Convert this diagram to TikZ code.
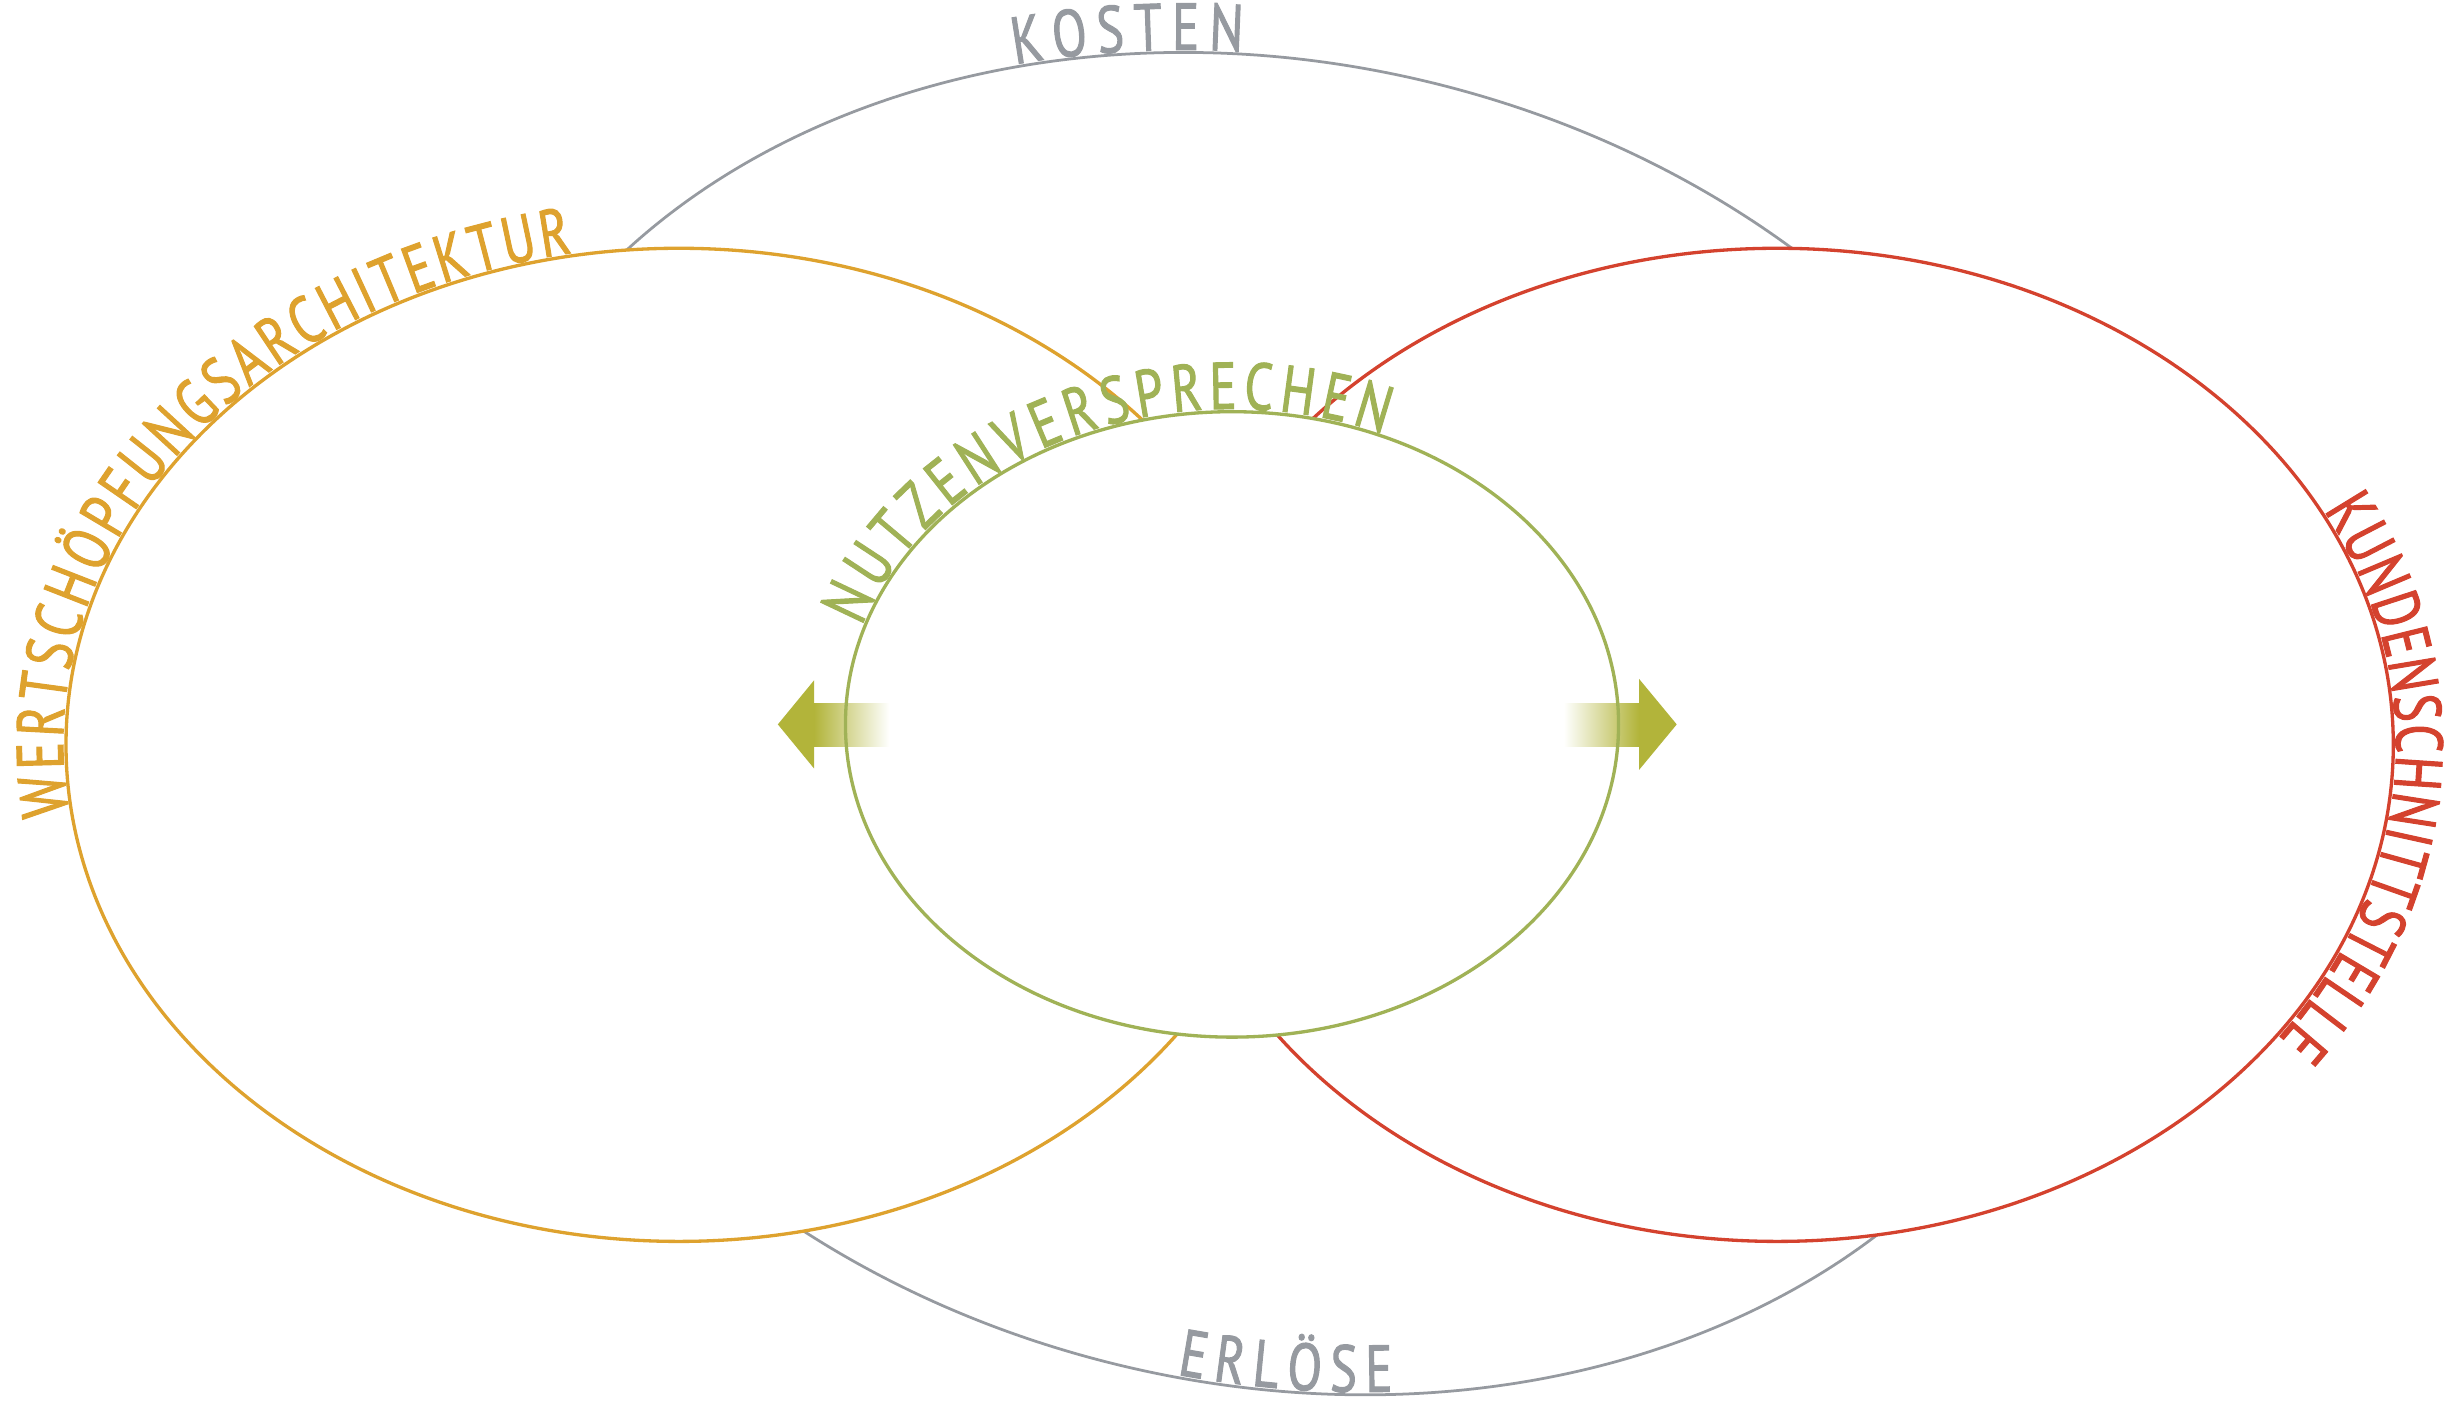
\documentclass[tikz,border=0pt]{standalone}
\usepackage{fontspec}
\setmainfont{PT Sans}
\newfontfamily\labelfamily{PT Sans}[FakeStretch=0.76, FakeBold=1.5]
\usetikzlibrary{decorations.text}
\definecolor{costgray}{RGB}{150,154,160}
\definecolor{valueorange}{RGB}{222,162,46}
\definecolor{clientred}{RGB}{212,66,46}
\definecolor{promisegreen}{RGB}{160,178,86}
\definecolor{arrowolive}{RGB}{178,180,58}
\newcommand{\labelfont}{\labelfamily\fontsize{24}{24}\selectfont}
\tikzset{
    ring/.style = {line width=1.2pt},
    arclabel/.style 2 args = {decorate,
        decoration={text along path, text align={fit to path}, raise=1pt,
        text={|\labelfont\color{#1}|#2}}},
    shaft/.style = {draw=none}
}

\begin{document}
\begin{tikzpicture}[x=0.2mm, y=0.2mm]
    \useasboundingbox (0,0) rectangle (1568,895);
    \coordinate (kosten) at (811,434.5);
    \coordinate (wert) at (432,421);
    \coordinate (kunde) at (1131,421);
    \coordinate (nutzen) at (784,434);
    % outer ring
    \begin{scope}[rotate around={-13.6:(kosten)}]
        \draw[costgray, line width=1pt] (kosten) ellipse [x radius=533, y radius=420];
        \path[arclabel={costgray}{KOSTEN}] (kosten) ++(119:533 and 420)
            arc[start angle=119, end angle=103, x radius=533, y radius=420];
        \path[arclabel={costgray}{ERLÖSE}] (kosten) ++(-86:533 and 420)
            arc[start angle=-86, end angle=-71, x radius=533, y radius=420];
    \end{scope}
    % the two sides
    \filldraw[ring, draw=valueorange, fill=white] (wert) ellipse [x radius=390, y radius=316];
    \filldraw[ring, draw=clientred, fill=white] (kunde) ellipse [x radius=392, y radius=316];
    \path[arclabel={valueorange}{WERTSCHÖPFUNGSARCHITEKTUR}] (wert) ++(188:390 and 316)
        arc[start angle=188, end angle=100, x radius=390, y radius=316];
    \path[arclabel={clientred}{KUNDENSCHNITTSTELLE}] (kunde) ++(28:392 and 316)
        arc[start angle=28, end angle=-36, x radius=392, y radius=316];
    % middle
    \fill[white] (nutzen) ellipse [x radius=246, y radius=199];
    \fill[arrowolive] (518,406) -- (495,434) -- (518,462) -- cycle;
    \shade[shaft, left color=arrowolive, right color=white] (518,420) rectangle (566,447);
    \fill[arrowolive] (1043,405) -- (1067,434) -- (1043,463) -- cycle;
    \shade[shaft, left color=white, right color=arrowolive] (995,420) rectangle (1043,447);
    \draw[ring, promisegreen] (nutzen) ellipse [x radius=246, y radius=199];
    \path[arclabel={promisegreen}{NUTZENVERSPRECHEN}] (nutzen) ++(162:246 and 199)
        arc[start angle=162, end angle=67, x radius=246, y radius=199];
\end{tikzpicture}
\end{document}
